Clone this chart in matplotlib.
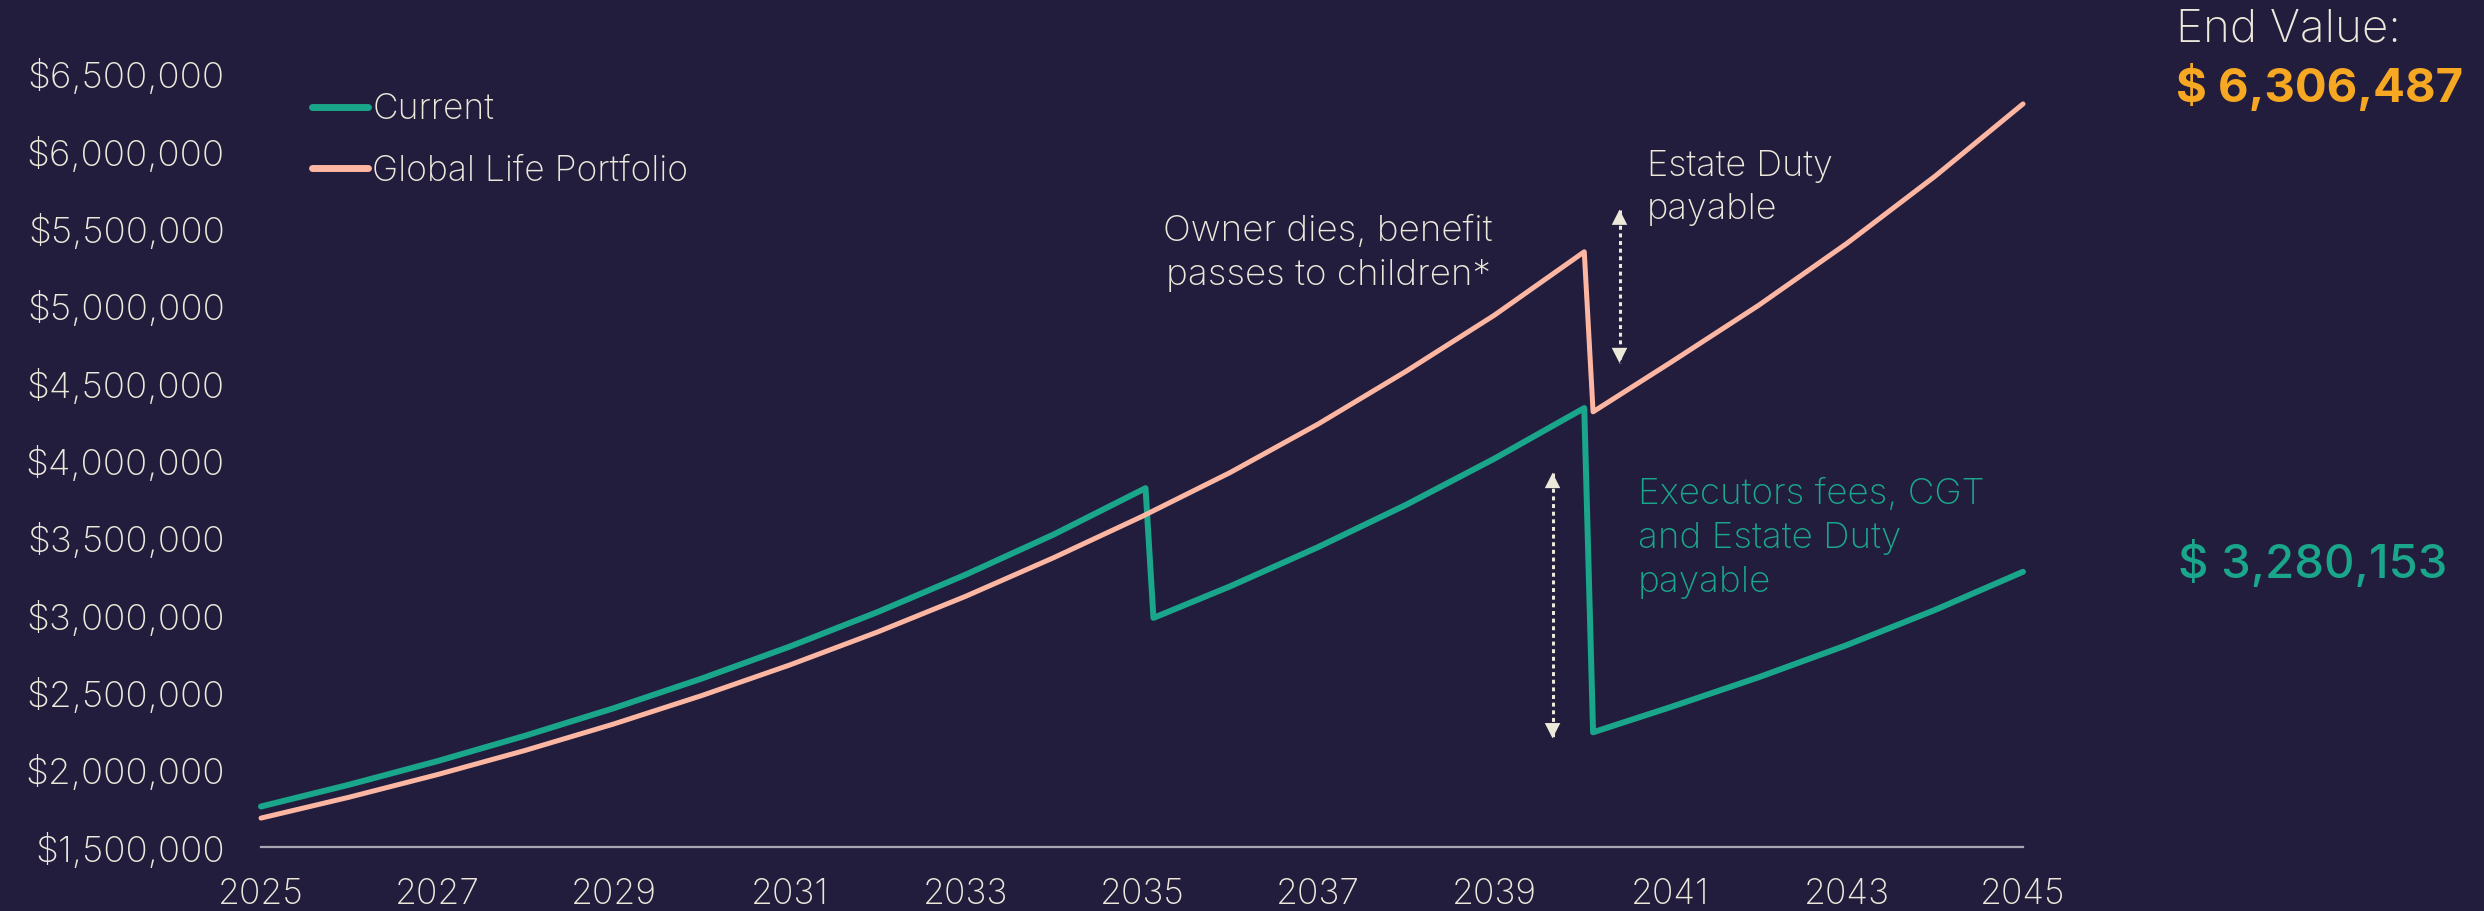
import matplotlib
matplotlib.use("Agg")
import matplotlib.pyplot as plt
from matplotlib import font_manager as fm
from matplotlib.ticker import FuncFormatter

# ---------------- data ----------------
current_years = [2025, 2026, 2027, 2028, 2029, 2030, 2031, 2032, 2033, 2034,
                 2035.04, 2035.13, 2036, 2037, 2038, 2039,
                 2040.02, 2040.12, 2041, 2042, 2043, 2044, 2045]
current_values = [1762000, 1903000, 2055000, 2220000, 2397000, 2589000, 2796000,
                  3020000, 3262000, 3522000, 3821000, 2982000, 3186000, 3440000,
                  3714000, 4012000, 4339000, 2242000, 2405000, 2598000, 2806000,
                  3033000, 3280153]

glp_years = [2025, 2026, 2027, 2028, 2029, 2030, 2031, 2032, 2033, 2034, 2035,
             2036, 2037, 2038, 2039, 2040.02, 2040.12, 2041, 2042, 2043, 2044, 2045]
glp_values = [1687000, 1822000, 1968000, 2125000, 2295000, 2479000, 2677000,
              2891000, 3122000, 3372000, 3638000, 3922000, 4236000, 4578000,
              4940000, 5350000, 4315000, 4634000, 5004000, 5404000, 5838000, 6306487]

series_labels = ["Current", "Global Life Portfolio"]
x_ticks = [2025, 2027, 2029, 2031, 2033, 2035, 2037, 2039, 2041, 2043, 2045]
y_ticks = [1500000, 2000000, 2500000, 3000000, 3500000, 4000000, 4500000,
           5000000, 5500000, 6000000, 6500000]
end_current = 3280153
end_glp = 6306487

# annotation anchors (data units)
estate_arrow_x = 2040.42
estate_arrow_y = (5623000, 4630000)
exec_arrow_x = 2039.66
exec_arrow_y = (3920000, 2203000)

# ---------------- style ----------------
BG = "#221C3D"
GREEN = "#1AA68A"
SALMON = "#FDB6A2"
CREAM = "#ECE8DA"
ORANGE = "#F7A823"
AXIS = "#A9A6B4"

avail = {f.name for f in fm.fontManager.ttflist}
FAM = [f for f in ["Inter", "Lato", "Open Sans", "DejaVu Sans"] if f in avail] + ["DejaVu Sans"]
plt.rcParams["font.family"] = FAM

W, H = 2484, 911
fig = plt.figure(figsize=(W / 100, H / 100), dpi=100, facecolor=BG)
ax = fig.add_axes([261 / W, (H - 847) / H, (2023 - 261) / W, (847 - 74) / H])
ax.set_facecolor(BG)

l1, = ax.plot(current_years, current_values, color=GREEN, lw=4.3,
              solid_joinstyle="round", solid_capstyle="round", clip_on=False,
              label=series_labels[0], zorder=3)
l2, = ax.plot(glp_years, glp_values, color=SALMON, lw=3.6,
              solid_joinstyle="round", solid_capstyle="round", clip_on=False,
              label=series_labels[1], zorder=3)

ax.set_xlim(2025, 2045)
ax.set_ylim(1500000, 6500000)
ax.set_xticks(x_ticks)
ax.set_yticks(y_ticks)
ax.yaxis.set_major_formatter(FuncFormatter(lambda v, p: "${:,.0f}".format(v)))
ax.tick_params(axis="both", length=0, labelcolor=CREAM)
ax.tick_params(axis="y", pad=26, labelsize=26.5)
ax.tick_params(axis="x", pad=22, labelsize=25.5)
for lab in ax.get_xticklabels() + ax.get_yticklabels():
    lab.set_fontweight("light")
for s in ["top", "right", "left"]:
    ax.spines[s].set_visible(False)
ax.spines["bottom"].set_color(AXIS)
ax.spines["bottom"].set_linewidth(1.6)

leg = ax.legend(handles=[l1, l2], loc="upper left",
                bbox_to_anchor=(312 / W, 1 - 93 / H), bbox_transform=fig.transFigure,
                frameon=False, fontsize=25.5, handlelength=1.58, handletextpad=0.12,
                labelspacing=0.8, borderpad=0, borderaxespad=0)
for t in leg.get_texts():
    t.set_color(CREAM)
    t.set_fontweight("light")
for h in leg.legend_handles:
    h.set_linewidth(5)
    h.set_solid_capstyle("round")

# dotted double arrows
def double_arrow(x, ytop, ybot):
    ax.plot([x, x], [ytop, ybot], color=CREAM, lw=2.2, dashes=[1.3, 1.2],
            dash_capstyle="butt", clip_on=False, zorder=4)
    span = ytop - ybot
    for tip, base in [(ytop, ytop - 0.001 * span), (ybot, ybot + 0.001 * span)]:
        ax.annotate("", xy=(x, tip), xytext=(x, base),
                    arrowprops=dict(arrowstyle="-|>,head_length=11,head_width=5.6",
                                    mutation_scale=1, color=CREAM, lw=0,
                                    shrinkA=0, shrinkB=0), zorder=5)

double_arrow(estate_arrow_x, *estate_arrow_y)
double_arrow(exec_arrow_x, *exec_arrow_y)

def ftext(x, y, s, **kw):
    fig.text(x / W, 1 - y / H, s, **kw)

ftext(1328, 215, "Owner dies, benefit\npasses to children*", ha="center", va="top",
      color=CREAM, fontsize=26.5, fontweight="light", linespacing=1.42)
ftext(1647, 150, "Estate Duty\npayable", ha="left", va="top",
      color=CREAM, fontsize=26, fontweight="light", linespacing=1.38)
ftext(1638, 478, "Executors fees, CGT\nand Estate Duty\npayable", ha="left", va="top",
      color=GREEN, fontsize=26.5, fontweight="light", linespacing=1.42)
ftext(2176, 9, "End Value:", ha="left", va="top", color=CREAM,
      fontsize=33, fontweight="light")
ftext(2176, 64, "$ {:,}".format(end_glp), ha="left", va="top", color=ORANGE,
      fontsize=34, fontweight="bold")
ftext(2178, 540, "$ {:,}".format(end_current), ha="left", va="top", color=GREEN,
      fontsize=34, fontweight="medium")

fig.savefig("out.png", dpi=100, facecolor=BG)
